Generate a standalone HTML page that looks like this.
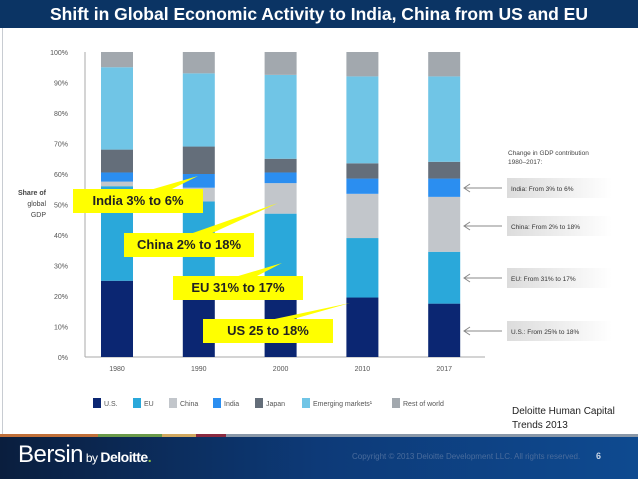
<!DOCTYPE html>
<html><head><meta charset="utf-8"><style>
body{margin:0;width:638px;height:479px;overflow:hidden;background:#fff;font-family:"Liberation Sans",sans-serif;position:relative}
</style></head><body>
<div style="position:absolute;left:0;top:0;width:638px;height:28px;background:#0b3464;color:#fff;font-weight:bold;font-size:17.5px;text-align:center;line-height:28px">Shift in Global Economic Activity to India, China from US and EU</div>
<div style="position:absolute;left:2px;top:28px;width:1px;height:406px;background:#c8ccd2"></div>
<svg id="chart" width="638" height="479" style="position:absolute;left:0;top:0" font-family="Liberation Sans, sans-serif"></svg>
<div style="position:absolute;left:512px;top:405px;font-size:10px;color:#222;line-height:14px">Deloitte Human Capital<br>Trends 2013</div>
<div style="position:absolute;left:0;top:434px;width:638px;height:3px;background:linear-gradient(90deg,#c0703a 0,#c0703a 98px,#6a9a4a 98px,#6a9a4a 162px,#d0a860 162px,#d0a860 196px,#8a2a40 196px,#8a2a40 226px,#8a98a8 226px)"></div>
<div style="position:absolute;left:0;top:437px;width:638px;height:42px;background:linear-gradient(90deg,#0a1e3e 0,#0d3a78 50%,#0e4a90 100%)">
<div style="position:absolute;left:18px;top:4px;color:#fff;font-size:24px;font-weight:300;letter-spacing:-0.5px">Bersin<span style="font-size:12px"> by </span><span style="font-size:14px;font-weight:bold">Deloitte<span style="color:#8dc63f">.</span></span></div>
<div style="position:absolute;left:352px;top:15px;color:#4a6c9c;font-size:8px">Copyright © 2013 Deloitte Development LLC. All rights reserved.</div>
<div style="position:absolute;left:596px;top:14px;color:#c8d4e4;font-size:9px;font-weight:bold">6</div>
</div>
<script>
const years=["1980","1990","2000","2010","2017"];
const us=[25,21,20,19.5,17.5];
const eu=[31,30,27,19.5,17];
const china=[1.5,4.5,10,14.5,18];
const india=[3,4.5,3.5,5,6];
const japan=[7.5,9,4.5,5,5.5];
const emerging=[27,24,27.5,28.5,28];
const rest=[5,7,7.5,8,8];
const yTicks=[0,10,20,30,40,50,60,70,80,90,100];
const seriesNames=["U.S.","EU","China","India","Japan","Emerging markets\u00b9","Rest of world"];
const colors=["#0b2672","#2aa8da","#c2c6cb","#2b8ef0","#646e7a","#70c5e6","#a2a8ae"];
const series=[us,eu,china,india,japan,emerging,rest];
const svg=document.getElementById('chart');
const NS="http://www.w3.org/2000/svg";
const y0=357,ppu=3.05,x0=101,step=81.8,bw=32;
const yS=v=>y0-v*ppu;
function mk(t,a){const e=document.createElementNS(NS,t);for(const k in a)e.setAttribute(k,a[k]);svg.appendChild(e);return e;}
let ax=mk('line',{x1:85,y1:52,x2:85,y2:357,stroke:'#aaa'});

let bx=mk('line',{x1:85,y1:357,x2:485,y2:357,stroke:'#aaa'});

yTicks.forEach(v=>{const t=mk('text',{x:68,y:yS(v)+3,'font-size':7,fill:'#555','text-anchor':'end'});t.textContent=v+'%';
});
[['Share of',195],['global',206],['GDP',217]].forEach(([s,y])=>{const t=mk('text',{x:46,y:y,'font-size':7,fill:'#444','text-anchor':'end','font-weight':s==='Share of'?'bold':'normal'});t.textContent=s;
});
years.forEach((yr,i)=>{let acc=0;const x=x0+i*step;
series.forEach((s,j)=>{const r=mk('rect',{x:x,y:yS(acc+s[i]),width:bw,height:s[i]*ppu,fill:colors[j]});
acc+=s[i];});
const t=mk('text',{x:x+bw/2,y:371,'font-size':7,fill:'#555','text-anchor':'middle'});t.textContent=yr;
});
const lx=[93,133,169,213,255,302,392];
seriesNames.forEach((n,j)=>{const r=mk('rect',{x:lx[j],y:398,width:8,height:10,fill:colors[j]});

const t=mk('text',{x:lx[j]+11,y:406,'font-size':7,fill:'#555'});t.textContent=n;
});
const h=mk('text',{x:508,y:155,'font-size':6.5,fill:'#444'});h.textContent='Change in GDP contribution';

const h2=mk('text',{x:508,y:164,'font-size':6.5,fill:'#444'});h2.textContent='1980–2017:';

const defs=mk('defs',{});defs.innerHTML='<linearGradient id="g" x1="0" x2="1"><stop offset="0" stop-color="#dcdcdc"/><stop offset="1" stop-color="#fff"/></linearGradient>';
[['India: From 3% to 6%',188],['China: From 2% to 18%',226],['EU: From 31% to 17%',278],['U.S.: From 25% to 18%',331]].forEach(([s,y])=>{
const r=mk('rect',{x:507,y:y-10,width:105,height:20,fill:'url(#g)'});
const t=mk('text',{x:511,y:y+3,'font-size':6.5,fill:'#333'});t.textContent=s;
const l=mk('path',{d:`M502 ${y}H464M470 ${y-4}L464 ${y}L470 ${y+4}`,stroke:'#888',fill:'none','stroke-width':1});});
[['India 3% to 6%',73,189,130,24,[150,189],[170,189],[198,176]],
 ['China 2% to 18%',124,233,130,24,[190,233],[210,233],[278,203]],
 ['EU 31% to 17%',173,276,130,24,[235,276],[255,276],[282,263]],
 ['US 25 to 18%',203,319,130,24,[270,319],[290,319],[350,303]]].forEach(([s,x,y,w,hh,a,b,tip])=>{
const p=mk('path',{d:`M${a[0]} ${a[1]+1}L${tip[0]} ${tip[1]}L${b[0]} ${b[1]+1}Z`,fill:'#ffff00'});
const r=mk('rect',{x:x,y:y,width:w,height:hh,fill:'#ffff00'});
const t=mk('text',{x:x+w/2,y:y+16,'font-size':13,'font-weight':'bold',fill:'#222','text-anchor':'middle'});t.textContent=s;
});
</script>
</body></html>
